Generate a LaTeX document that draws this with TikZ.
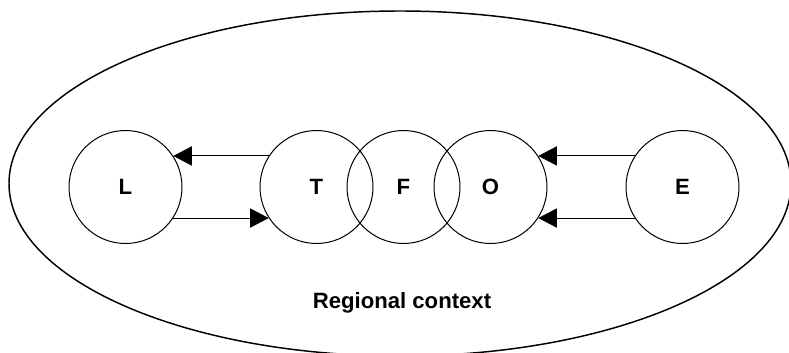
\documentclass[tikz,border=0pt]{standalone}
\usepackage{fontspec}
\setmainfont{Liberation Sans}
\usetikzlibrary{arrows.meta}

\begin{document}
\begin{tikzpicture}
[
	x=0.75pt, y=-0.75pt,
	zone/.style={circle,draw,line width=0.75pt,inner sep=0pt,minimum size=84.75pt,font=\fontsize{16.6}{20}\selectfont\bfseries},
	flow/.style={-{Triangle[length=14pt,width=14.5pt]},line width=0.75pt}
]
	\useasboundingbox (0,0) rectangle (789,353);

	% regional context
	\draw[line width=1.1pt] (400,183.5) ellipse [x radius=391, y radius=172.5];
	\node[anchor=base,font=\fontsize{16.6}{20}\selectfont\bfseries] (ctx) at (402,308) {Regional context};

	% circles
	\node[zone] (L) at (125.5,187) {L};
	\node[zone] (T) at (316.5,187) {T};
	\node[zone] (F) at (403.5,187) {F};
	\node[zone] (O) at (490.5,187) {O};
	\node[zone] (E) at (682.5,187) {E};

	% flows
	\draw[flow] (T.147) -- (L.33);
	\draw[flow] (L.-33) -- (T.-147);
	\draw[flow] (E.147) -- (O.33);
	\draw[flow] (E.-147) -- (O.-33);

\end{tikzpicture}
\end{document}
